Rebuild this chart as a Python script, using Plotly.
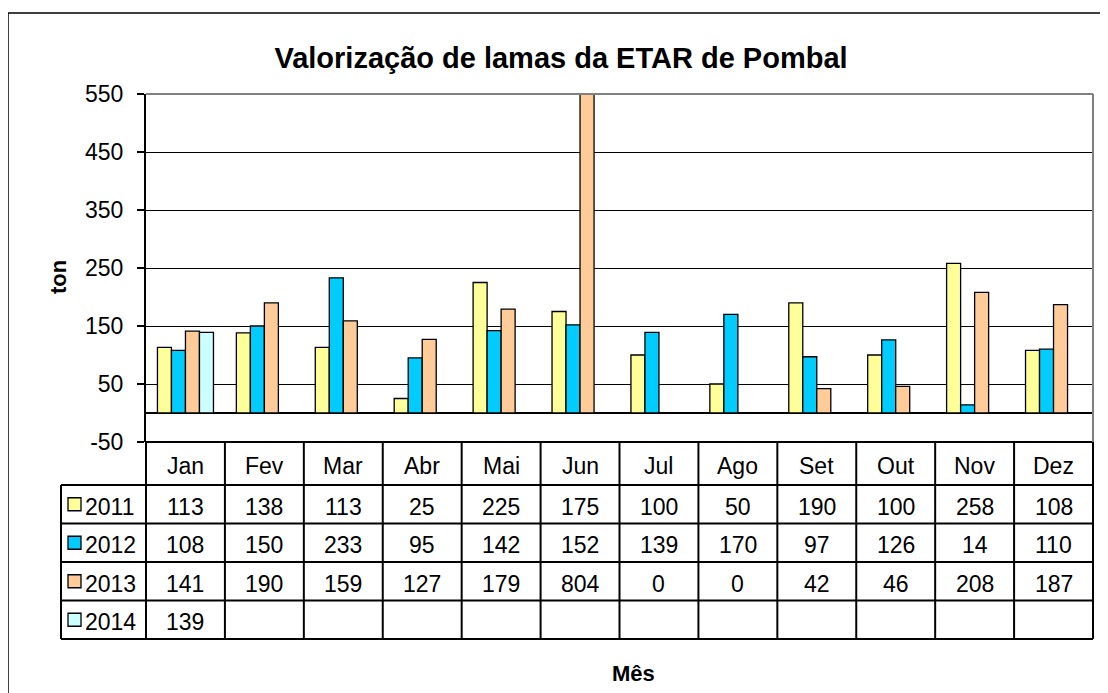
import plotly.graph_objects as go

# ---------------- data ----------------
months = ["Jan", "Fev", "Mar", "Abr", "Mai", "Jun", "Jul", "Ago", "Set", "Out", "Nov", "Dez"]
series_names = ["2011", "2012", "2013", "2014"]
v2011 = [113, 138, 113, 25, 225, 175, 100, 50, 190, 100, 258, 108]
v2012 = [108, 150, 233, 95, 142, 152, 139, 170, 97, 126, 14, 110]
v2013 = [141, 190, 159, 127, 179, 804, 0, 0, 42, 46, 208, 187]
v2014 = [139, None, None, None, None, None, None, None, None, None, None, None]
y_ticks = [-50, 50, 150, 250, 350, 450, 550]
title_text = "Valorização de lamas da ETAR de Pombal"
y_title = "ton"
x_title = "Mês"

series_values = [v2011, v2012, v2013, v2014]
colors = ["#FFFF99", "#00CCFF", "#FFCC99", "#CCFFFF"]

# ---------------- layout geometry ----------------
# page body has an 8px margin, so the figure is drawn 8px in from the window edge
OFF = 8
PAGE_W, PAGE_H = 1108, 693
W, H = PAGE_W - OFF, PAGE_H - OFF
PLOT_X0, PLOT_X1 = 146, 1093      # page pixels
PLOT_Y0, PLOT_Y1 = 94, 442
L = PLOT_X0 - OFF
T = PLOT_Y0 - OFF
PW = PLOT_X1 - PLOT_X0
PH = PLOT_Y1 - PLOT_Y0
R = W - L - PW
B = H - T - PH
FONT = "Liberation Sans, Arial, sans-serif"
FS = 23
TXT_DY = 2.5   # text baseline nudge inside table cells


def fx(px):
    return (px - PLOT_X0) / PW


def fy(py):
    return (PLOT_Y1 - py) / PH


fig = go.Figure()
for name, vals, col in zip(series_names, series_values, colors):
    fig.add_trace(go.Bar(
        x=months, y=vals, name=name,
        marker=dict(color=col, line=dict(color="black", width=1.3)),
        showlegend=False,
    ))

shapes = []
annotations = []

# table geometry
n = len(months)
table_top = PLOT_Y1
header_h = 43
row_h = 38.5
legend_left = 61
row_edges = [table_top + header_h + i * row_h for i in range(len(series_names) + 1)]
line_style = dict(color="black", width=2)

shapes.append(dict(type="line", xref="paper", yref="paper", x0=0, x1=1,
                   y0=fy(table_top), y1=fy(table_top), line=line_style))
for ry in row_edges:
    shapes.append(dict(type="line", xref="paper", yref="paper", x0=fx(legend_left), x1=1,
                       y0=fy(ry), y1=fy(ry), line=line_style))
for i in range(n + 1):
    shapes.append(dict(type="line", xref="paper", yref="paper", x0=i / n, x1=i / n,
                       y0=fy(table_top), y1=fy(row_edges[-1]), line=line_style))
shapes.append(dict(type="line", xref="paper", yref="paper", x0=fx(legend_left), x1=fx(legend_left),
                   y0=fy(row_edges[0]), y1=fy(row_edges[-1]), line=line_style))

for i, m in enumerate(months):
    annotations.append(dict(text=m, xref="paper", yref="paper", x=(i + 0.5) / n,
                            y=fy(table_top + header_h / 2 + TXT_DY), showarrow=False,
                            xanchor="center", yanchor="middle",
                            font=dict(family=FONT, size=FS, color="black")))

for r, (name, vals, col) in enumerate(zip(series_names, series_values, colors)):
    cy = row_edges[r] + row_h / 2
    for i, v in enumerate(vals):
        if v is None:
            continue
        annotations.append(dict(text=str(v), xref="paper", yref="paper", x=(i + 0.5) / n,
                                y=fy(cy + TXT_DY), showarrow=False, xanchor="center", yanchor="middle",
                                font=dict(family=FONT, size=FS, color="black")))
    shapes.append(dict(type="rect", xref="paper", yref="paper",
                       x0=fx(68), x1=fx(81), y0=fy(cy - 6.5), y1=fy(cy + 6.5),
                       fillcolor=col, line=dict(color="black", width=1.3)))
    annotations.append(dict(text=name, xref="paper", yref="paper", x=fx(83), y=fy(cy + TXT_DY),
                            showarrow=False, xanchor="left", yanchor="middle",
                            font=dict(family=FONT, size=FS, color="black")))

# plot area gray border (top and right)
shapes.append(dict(type="line", xref="paper", yref="paper", x0=0, x1=1, y0=1, y1=1,
                   line=dict(color="#808080", width=2)))
shapes.append(dict(type="line", xref="paper", yref="paper", x0=1, x1=1, y0=fy(table_top), y1=1,
                   line=dict(color="#808080", width=2)))
# outer chart border
shapes.append(dict(type="rect", xref="paper", yref="paper",
                   x0=fx(8), x1=fx(PAGE_W + 20), y0=fy(PAGE_H + 20), y1=fy(13),
                   line=dict(color="black", width=1.5), fillcolor="rgba(0,0,0,0)"))

annotations.append(dict(text="<b>%s</b>" % y_title, xref="paper", yref="paper", x=fx(58), y=fy(277),
                        showarrow=False, textangle=-90, xanchor="center", yanchor="middle",
                        font=dict(family=FONT, size=22, color="black")))
annotations.append(dict(text="<b>%s</b>" % x_title, xref="paper", yref="paper", x=fx(633), y=fy(673),
                        showarrow=False, xanchor="center", yanchor="middle",
                        font=dict(family=FONT, size=22, color="black")))

fig.update_layout(
    width=W, height=H,
    margin=dict(l=L, r=R, t=T, b=B, autoexpand=False),
    paper_bgcolor="white", plot_bgcolor="white",
    barmode="group", bargap=0.29, bargroupgap=0,
    title=dict(text="<b>%s</b>" % title_text, x=(561 - OFF) / W, xanchor="center",
               y=1 - (58 - OFF) / H, yanchor="middle",
               font=dict(family=FONT, size=29, color="black")),
    xaxis=dict(range=[-0.5, n - 0.5], showticklabels=False, ticks="", showgrid=False,
               zeroline=False, showline=False, fixedrange=True),
    yaxis=dict(range=[y_ticks[0], y_ticks[-1]], tickvals=y_ticks,
               ticktext=[str(v) for v in y_ticks], ticks="outside",
               ticklen=7, tickwidth=1.5, tickcolor="black", ticklabelstandoff=9,
               showgrid=True, gridcolor="black", gridwidth=1.3,
               zeroline=True, zerolinecolor="black", zerolinewidth=1.5,
               showline=True, linecolor="black", linewidth=2,
               tickfont=dict(family=FONT, size=FS, color="black"), fixedrange=True),
    shapes=shapes, annotations=annotations,
    hovermode=False,
)

fig.write_html("out.html", config={"displayModeBar": False})
